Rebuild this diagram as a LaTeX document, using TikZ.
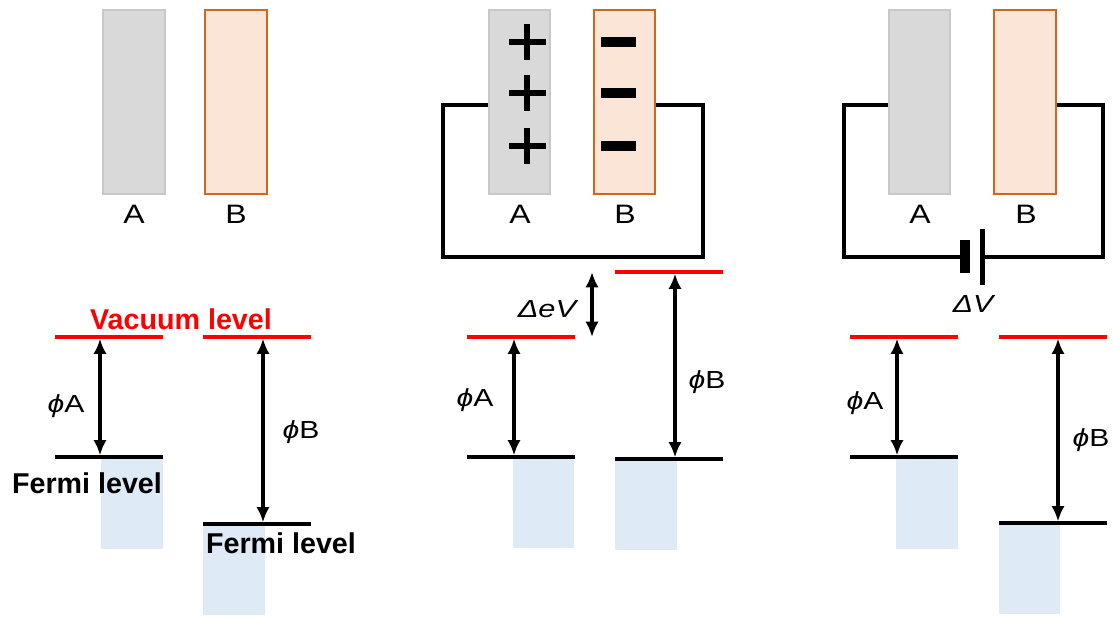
\documentclass[tikz,border=0pt]{standalone}
\usepackage{fontspec}
\setmainfont{Liberation Sans}
\usetikzlibrary{arrows.meta}
\definecolor{grayfill}{HTML}{D9D9D9}
\definecolor{grayedge}{HTML}{C8C8C8}
\definecolor{pinkfill}{HTML}{FBE5D6}
\definecolor{orangeedge}{HTML}{D0671E}
\definecolor{bluefill}{HTML}{DEEAF6}
\newcommand{\wideT}[1]{\scalebox{1.2}[1]{#1}}
\newcommand{\phiT}[1]{\scalebox{1.22}[1]{\itshape ϕ\upshape #1}}
\begin{document}
\begin{tikzpicture}[x=0.75pt,y=-0.75pt,
  plateA/.style={fill=grayfill,draw=grayedge,line width=0.9pt},
  plateB/.style={fill=pinkfill,draw=orangeedge,line width=1.1pt},
  vac/.style={draw=red,line width=2.3pt},
  fermi/.style={draw=black,line width=2.3pt},
  band/.style={fill=bluefill},
  wire/.style={draw=black,line width=2.3pt,line join=miter},
  dbl/.style={line width=3.2pt,{Latex[length=11.5pt,width=10pt]}-{Latex[length=11.5pt,width=10pt]}},
  lbl/.style={font=\fontsize{20}{23}\selectfont,inner sep=0,anchor=base},
  phil/.style={font=\fontsize{18.5}{21}\selectfont,inner sep=0,anchor=base},
  bigl/.style={font=\fontsize{21.5}{24}\selectfont\bfseries,inner sep=0,anchor=base},
  chg/.style={line width=4.5pt}
]
\useasboundingbox (0,0) rectangle (1113,619);

% ===== Panel 1 =====
\draw[plateA] (103,10) rectangle (165,194);
\draw[plateB] (205,10) rectangle (267,194);
\node[lbl] (p1A) at (134,223) {\wideT{A}};
\node[lbl] (p1B) at (236,223) {\wideT{B}};

\fill[band] (101,458) rectangle (163,549);
\fill[band] (203,525) rectangle (265,615);
\coordinate (v1a) at (100,337); \coordinate (f1a) at (100,457);
\coordinate (v1b) at (263,337); \coordinate (f1b) at (263,524);
\draw[vac] (55,337) -- (163,337);
\draw[vac] (203,337) -- (311,337);
\draw[fermi] (55,457) -- (163,457);
\draw[fermi] (203,524) -- (311,524);
\draw[dbl] ([yshift=-1.2pt]v1a) -- ([yshift=1.2pt]f1a);
\draw[dbl] ([yshift=-1.2pt]v1b) -- ([yshift=1.2pt]f1b);
\node[bigl,text=red] (vaclbl) at (181,329) {Vacuum level};
\node[bigl] (fer1) at (87,493) {Fermi level};
\node[bigl] (fer2) at (281,553) {Fermi level};
\node[phil] (phi1a) at (66,412) {\phiT{A}};
\node[phil] (phi1b) at (301,438) {\phiT{B}};

% ===== Panel 2 =====
\draw[wire] (489,105) -- (443,105) -- (443,257) -- (703,257) -- (703,105) -- (655,105);
\draw[plateA] (489,10) rectangle (550,194);
\draw[plateB] (594,10) rectangle (655,194);
\foreach \yy in {42,93,146}{
  \draw[chg] (509,\yy) -- (546,\yy);
  \draw[chg] (527,\yy-18) -- (527,\yy+18);
  \fill (601,\yy-5) rectangle (636,\yy+5);
}
\node[lbl] (p2A) at (520,223) {\wideT{A}};
\node[lbl] (p2B) at (625,223) {\wideT{B}};

\fill[band] (513,458) rectangle (574,548);
\fill[band] (615,460) rectangle (677,550);
\coordinate (v2a) at (514,337); \coordinate (f2a) at (514,457);
\coordinate (v2b) at (675,272); \coordinate (f2b) at (675,459);
\coordinate (d2t) at (592,272); \coordinate (d2b) at (592,337);
\draw[vac] (467,337) -- (575,337);
\draw[vac] (615,272) -- (723,272);
\draw[fermi] (467,457) -- (575,457);
\draw[fermi] (615,459) -- (723,459);
\draw[dbl] ([yshift=-1.2pt]v2a) -- ([yshift=1.2pt]f2a);
\draw[dbl] ([yshift=-1.2pt]v2b) -- ([yshift=1.2pt]f2b);
\draw[dbl] (d2t) -- (d2b);
\node[phil] (dev) at (547,317) {\scalebox{1.25}[1]{\itshape ΔeV}};
\node[phil] (phi2a) at (475,406) {\phiT{A}};
\node[phil] (phi2b) at (707,388) {\phiT{B}};

% ===== Panel 3 =====
\draw[wire] (889,105) -- (844,105) -- (844,257) -- (960,257);
\draw[wire] (982,257) -- (1103,257) -- (1103,105) -- (1056,105);
\fill (960,240) rectangle (970,273);
\fill (980,229) rectangle (985,285);
\draw[plateA] (889,10) rectangle (950,194);
\draw[plateB] (994,10) rectangle (1056,194);
\node[lbl] (p3A) at (920,223) {\wideT{A}};
\node[lbl] (p3B) at (1026,223) {\wideT{B}};
\node[phil] (dv) at (973,312) {\scalebox{1.22}[1]{\itshape ΔV}};

\fill[band] (896,458) rectangle (958,549);
\fill[band] (999,524) rectangle (1060,614);
\coordinate (v3a) at (897,337); \coordinate (f3a) at (897,457);
\coordinate (v3b) at (1058,337); \coordinate (f3b) at (1058,523);
\draw[vac] (850,337) -- (958,337);
\draw[vac] (999,337) -- (1107,337);
\draw[fermi] (850,457) -- (958,457);
\draw[fermi] (999,523) -- (1107,523);
\draw[dbl] ([yshift=-1.2pt]v3a) -- ([yshift=1.2pt]f3a);
\draw[dbl] ([yshift=-1.2pt]v3b) -- ([yshift=1.2pt]f3b);
\node[phil] (phi3a) at (865,409) {\phiT{A}};
\node[phil] (phi3b) at (1091,446) {\phiT{B}};
\end{tikzpicture}
\end{document}
